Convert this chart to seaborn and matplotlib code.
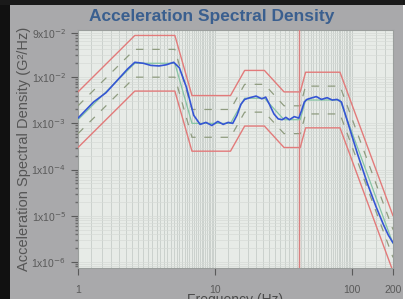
import numpy as np
import pandas as pd
import matplotlib
matplotlib.use("Agg")
import matplotlib.pyplot as plt
from matplotlib.patches import Rectangle
import matplotlib.ticker as mticker
import seaborn as sns

# ---- data ----
prof_freq = [1, 2.6, 5.1, 6.8, 13, 16.5, 23, 32, 42, 46, 82, 200]
reference = [1.2e-3, 2.0e-2, 2.0e-2, 1.0e-3, 1.0e-3, 3.5e-3, 3.5e-3, 1.2e-3, 1.2e-3, 3.2e-3, 3.2e-3, 2.5e-6]
abort_hi = [4.8e-3, 8.0e-2, 8.0e-2, 4.0e-3, 4.0e-3, 1.4e-2, 1.4e-2, 4.8e-3, 4.8e-3, 1.28e-2, 1.28e-2, 1.0e-5]
abort_lo = [3.0e-4, 5.0e-3, 5.0e-3, 2.5e-4, 2.5e-4, 8.75e-4, 8.75e-4, 3.0e-4, 3.0e-4, 8.0e-4, 8.0e-4, 6.25e-7]
alarm_hi = [2.4e-3, 4.0e-2, 4.0e-2, 2.0e-3, 2.0e-3, 7.0e-3, 7.0e-3, 2.4e-3, 2.4e-3, 6.4e-3, 6.4e-3, 5.0e-6]
alarm_lo = [6.0e-4, 1.0e-2, 1.0e-2, 5.0e-4, 5.0e-4, 1.75e-3, 1.75e-3, 6.0e-4, 6.0e-4, 1.6e-3, 1.6e-3, 1.25e-6]

meas_freq = [1, 1.3, 1.6, 2.0, 2.3, 2.6, 3.0, 3.4, 3.9, 4.4, 5.0, 5.5, 6.2, 7.0, 7.8, 8.6, 9.5, 10.5, 11.5,
             12.5, 13.5, 14.5, 15.5, 16.5, 18, 20, 22, 23.5, 25, 27, 29, 31, 33, 35, 38, 41, 43, 45, 47,
             50, 55, 60, 66, 72, 78, 84, 95, 110, 130, 150, 170, 185, 200]
measured = [1.3e-3, 2.9e-3, 4.6e-3, 9.5e-3, 1.5e-2, 2.1e-2, 2.0e-2, 1.8e-2, 1.75e-2, 1.85e-2, 2.1e-2, 1.6e-2, 6.0e-3, 1.5e-3, 9.5e-4, 1.05e-3, 9.0e-4, 1.1e-3, 9.5e-4,
            1.05e-3, 1.0e-3, 1.5e-3, 2.6e-3, 3.3e-3, 3.6e-3, 3.9e-3, 3.4e-3, 3.7e-3, 2.6e-3, 1.6e-3, 1.25e-3, 1.2e-3, 1.35e-3, 1.2e-3, 1.4e-3, 1.3e-3, 1.9e-3, 2.9e-3, 3.3e-3,
            3.5e-3, 3.8e-3, 3.3e-3, 3.6e-3, 3.2e-3, 3.3e-3, 2.9e-3, 9.0e-4, 2.2e-4, 5.0e-5, 1.6e-5, 6.5e-6, 3.8e-6, 2.6e-6]

ytick_vals = [1e-6, 1e-5, 1e-4, 1e-3, 1e-2, 9e-2]
ytick_labels = ["1x10$^{-6}$", "1x10$^{-5}$", "1x10$^{-4}$", "1x10$^{-3}$", "1x10$^{-2}$", "9x10$^{-2}$"]
xtick_vals = [1, 10, 100, 200]
xtick_labels = ["1", "10", "100", "200"]
marker_freq = 41

sns.set_theme(style="white")
plt.rcParams["font.family"] = ["Liberation Sans", "DejaVu Sans"]

W, H = 414, 299
fig = plt.figure(figsize=(W / 100, H / 100), dpi=100)
fig.patch.set_facecolor("white")

# photo frame: gray panel, black left bar and top line
fig.add_artist(Rectangle((10 / W, 0), 393 / W, 1 - 4 / H, transform=fig.transFigure,
                         facecolor="#a9a9ab", edgecolor="none", zorder=0))
fig.add_artist(Rectangle((0, 0), 10 / W, 1, transform=fig.transFigure,
                         facecolor="#111111", edgecolor="none", zorder=0))
fig.add_artist(Rectangle((0, 1 - 5 / H), 405 / W, 5 / H, transform=fig.transFigure,
                         facecolor="#1a1a1a", edgecolor="none", zorder=0))

ax = fig.add_axes([78 / W, 1 - 268 / H, (393 - 78) / W, (268 - 30) / H])
ax.set_facecolor("#e7ebe7")
ax.set_xscale("log")
ax.set_yscale("log")

prof = pd.DataFrame({"freq": prof_freq, "reference": reference, "abort_hi": abort_hi,
                     "abort_lo": abort_lo, "alarm_hi": alarm_hi, "alarm_lo": alarm_lo})
meas = pd.DataFrame({"freq": meas_freq, "measured": measured})

red = "#e27a7a"
for col in ["abort_hi", "abort_lo"]:
    sns.lineplot(data=prof, x="freq", y=col, ax=ax, color=red, lw=1.0, zorder=3)
for col in ["alarm_hi", "alarm_lo"]:
    sns.lineplot(data=prof, x="freq", y=col, ax=ax, color="#8f9c80", lw=0.9, zorder=3,
                 linestyle=(0, (6, 7)))
sns.lineplot(data=prof, x="freq", y="reference", ax=ax, color="#86c4a4", lw=0.9, zorder=4)
sns.lineplot(data=meas, x="freq", y="measured", ax=ax, color="#3555d4", lw=1.2, zorder=5)
ax.axvline(marker_freq, color="#d88080", lw=1.0, zorder=3)

ax.set_xlim(1, 200)
ax.set_ylim(7.4e-7, 0.105)

# dense vertical grid like the screen
ax.xaxis.set_minor_locator(mticker.LogLocator(base=10, subs=np.arange(1.0, 10.0, 0.25), numticks=50))
ax.xaxis.set_minor_formatter(mticker.NullFormatter())
ax.grid(True, which="minor", axis="x", color="#c6ccc8", lw=0.6)
ax.grid(True, which="major", axis="x", color="#c0c6c2", lw=0.6)
ax.yaxis.set_minor_locator(mticker.LogLocator(base=10, subs=np.arange(2, 10), numticks=50))
ax.yaxis.set_minor_formatter(mticker.NullFormatter())
ax.grid(True, which="both", axis="y", color="#d6dbd7", lw=0.5)

ax.set_yticks(ytick_vals)
ax.set_yticklabels(ytick_labels)
ax.set_xticks(xtick_vals)
ax.set_xticklabels(xtick_labels)
ax.tick_params(axis="both", which="major", labelsize=7.5, colors="#5a5a5a", length=5, width=0.8,
               direction="out", left=True, bottom=True)
ax.tick_params(axis="y", which="minor", length=2.5, color="#6a6a6a", left=True)
ax.tick_params(axis="x", which="minor", length=0)
ax.tick_params(axis="x", which="major", pad=7)

for s in ax.spines.values():
    s.set_color("#9a9e9c")
    s.set_linewidth(0.8)

ax.set_xlabel("Frequency (Hz)", fontsize=10, color="#4a4a4a", labelpad=-1)
ax.set_ylabel("Acceleration Spectral Density (G\u00b2/Hz)", fontsize=10.5, color="#555555")
ax.yaxis.set_label_coords(-47 / (393 - 78), 0.5)
fig.text(212 / W, 1 - 17 / H, "Acceleration Spectral Density", ha="center", va="center",
         fontsize=12.5, fontweight="bold", color="#3a5f8f")

fig.savefig("out.png", dpi=100, facecolor=fig.get_facecolor())
